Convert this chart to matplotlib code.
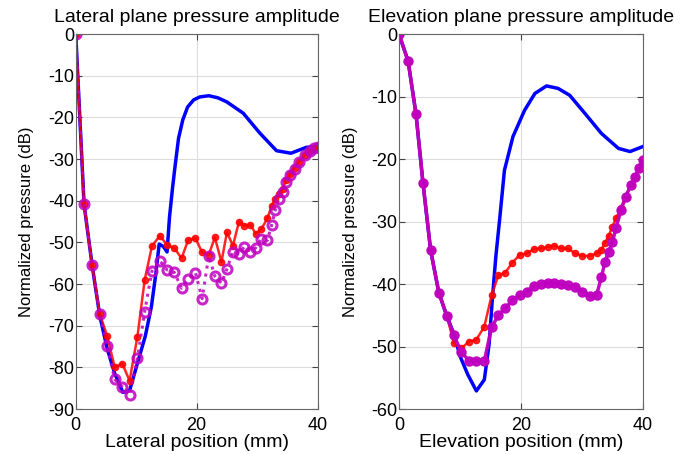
import matplotlib
matplotlib.use("Agg")
import matplotlib.pyplot as plt

plt.rcParams["font.family"] = ["Liberation Sans", "DejaVu Sans"]
plt.rcParams["axes.unicode_minus"] = False

# lateral plane (left panel)
lat_x = [0, 1.37, 2.7, 3.97, 5.2, 6.45, 7.7, 8.9, 10.2, 11.4, 12.6, 13.9, 15.1, 16.3,
         17.5, 18.6, 19.8, 20.9, 22.0, 23.0, 24.1, 25.0, 26.0, 27.0, 27.9, 28.9, 29.75,
         30.7, 31.7, 32.4, 33.0, 33.6, 34.2, 34.8, 35.5, 36.2, 37.0, 37.9, 38.7, 39.4, 40.0]
lat_red = [0, -40.8, -55.4, -67.2, -72.5, -80.0, -79.1, -83.2, -72.6, -59.0, -50.9, -48.4,
           -50.6, -51.4, -53.8, -49.4, -49.0, -52.4, -53.0, -48.8, -54.7, -47.6, -50.8, -45.0,
           -46.0, -45.8, -47.9, -46.8, -44.2, -41.2, -39.5, -38.5, -37.2, -35.0, -33.5, -32.2,
           -30.6, -29.0, -28.0, -27.4, -27.0]
lat_mag = [0, -40.8, -55.4, -67.2, -74.9, -82.9, -84.7, -86.6, -77.8, -66.6, -56.9, -54.4,
           -56.6, -57.2, -61.0, -58.8, -57.3, -63.5, -53.2, -58.1, -59.8, -56.4, -52.2, -52.7,
           -51.0, -52.2, -51.3, -49.2, -49.5, -45.8, -42.2, -39.5, -37.8, -35.5, -33.8, -32.3,
           -30.6, -29.0, -28.0, -27.4, -27.0]
lat_blue_x = [0, 1.37, 2.7, 3.97, 5.2, 6.45, 7.8, 8.9, 10.2, 11.5, 12.5, 13.2, 13.8, 14.5,
              15.1, 15.5, 16.0, 16.4, 17.0, 17.7, 18.5, 19.5, 20.5, 22.0, 23.5, 25.0, 27.7,
              30.4, 33.2, 35.6, 38.1, 40.0]
lat_blue = [0, -40.8, -55.4, -67.6, -75.5, -81.5, -86.0, -85.6, -79.0, -72.5, -65.5, -58.0,
            -50.4, -51.0, -52.3, -44.0, -37.0, -32.0, -25.0, -20.6, -17.5, -15.8, -15.1,
            -14.8, -15.3, -16.3, -19.0, -23.7, -28.0, -28.6, -27.2, -26.9]

# elevation plane (right panel)
ele_x = [0, 1.5, 2.8, 3.95, 5.2, 6.55, 7.85, 9.0, 10.2, 11.5, 12.7, 14.0, 15.2, 16.3, 17.4,
         18.6, 19.8, 21.0, 22.1, 23.3, 24.4, 25.5, 26.6, 27.7, 28.9, 30.1, 31.3, 32.4, 33.2,
         33.8, 34.4, 35.0, 35.6, 36.4, 37.2, 38.0, 38.7, 39.4, 40.0]
ele_red = [0, -4.3, -12.8, -23.9, -34.6, -41.4, -45.1, -49.4, -50.3, -49.2, -48.9, -46.8,
           -41.8, -38.6, -38.2, -36.6, -35.3, -35.1, -34.4, -34.3, -34.1, -33.9, -34.3, -34.3,
           -35.1, -35.5, -35.5, -35.1, -34.5, -33.4, -32.3, -30.8, -29.5, -27.8, -26.0, -24.2,
           -22.8, -21.5, -20.2]
ele_mag = [0, -4.3, -12.8, -23.9, -34.6, -41.4, -45.1, -48.2, -50.8, -52.3, -52.3, -52.3,
           -46.9, -45.0, -43.9, -42.6, -41.8, -41.2, -40.3, -40.0, -39.8, -39.9, -40.0, -40.2,
           -40.4, -41.2, -41.9, -41.8, -38.9, -36.4, -34.8, -33.3, -31.0, -28.2, -26.0, -24.2,
           -22.8, -21.5, -20.2]
ele_blue_x = [0, 1.5, 2.8, 3.95, 5.2, 6.55, 7.85, 9.1, 10.0, 11.3, 12.7, 14.0, 14.8, 15.3,
              15.9, 16.5, 17.3, 18.7, 20.6, 22.3, 24.2, 26.1, 28.0, 30.5, 33.2, 36.0, 37.9, 40.0]
ele_blue = [0, -4.3, -12.8, -23.9, -34.6, -41.4, -45.1, -48.2, -51.5, -54.5, -57.1, -55.3,
            -49.5, -42.6, -35.5, -29.8, -21.8, -16.4, -12.2, -9.5, -8.3, -8.7, -9.8, -12.7,
            -15.9, -18.3, -18.8, -18.0]

MAG = (0.75, 0.0, 0.75)

fig = plt.figure(figsize=(6.95, 4.54), dpi=100)
ax1 = fig.add_axes([0.109, 0.099, 0.348, 0.826])
ax2 = fig.add_axes([0.574, 0.099, 0.351, 0.826])


def style(ax, title, xlabel, ylim, yticks):
    ax.set_xlim(0, 40)
    ax.set_ylim(*ylim)
    ax.set_xticks([0, 20, 40])
    ax.set_yticks(yticks)
    ax.grid(True, color="#dddddd", lw=0.8)
    ax.set_axisbelow(True)
    ax.tick_params(direction="in", top=True, right=True, length=4, labelsize=13,
                   color="#444444", pad=1)
    ax.tick_params(axis="x", pad=5.5)
    for s in ax.spines.values():
        s.set_color("#666666")
    ax.set_title(title, fontsize=14, pad=9)
    ax.set_xlabel(xlabel, fontsize=14, labelpad=0)
    ax.set_ylabel("Normalized pressure (dB)", fontsize=12, labelpad=10)


ax1.plot(lat_blue_x, lat_blue, "-", color="blue", lw=2.5)
ax1.plot(lat_x, lat_red, "-", color="red", lw=1.8, marker="o", ms=4.5, alpha=0.85)
ax1.plot(lat_x, lat_mag, ":", color=MAG, lw=2.2, marker="o", ms=6.5, mfc="none", mew=2.2,
         alpha=0.85)
style(ax1, "Lateral plane pressure amplitude", "Lateral position (mm)", (-90, 0),
      range(-90, 1, 10))

ax2.plot(ele_blue_x, ele_blue, "-", color="blue", lw=2.5)
ax2.plot(ele_x, ele_red, "-", color="red", lw=1.8, marker="o", ms=4.5, alpha=0.85)
ax2.plot(ele_x, ele_mag, "-", color=MAG, lw=2.5, marker="o", ms=6.5, alpha=0.95)
style(ax2, "Elevation plane pressure amplitude", "Elevation position (mm)", (-60, 0),
      range(-60, 1, 10))

fig.savefig("out.png", dpi=100)
